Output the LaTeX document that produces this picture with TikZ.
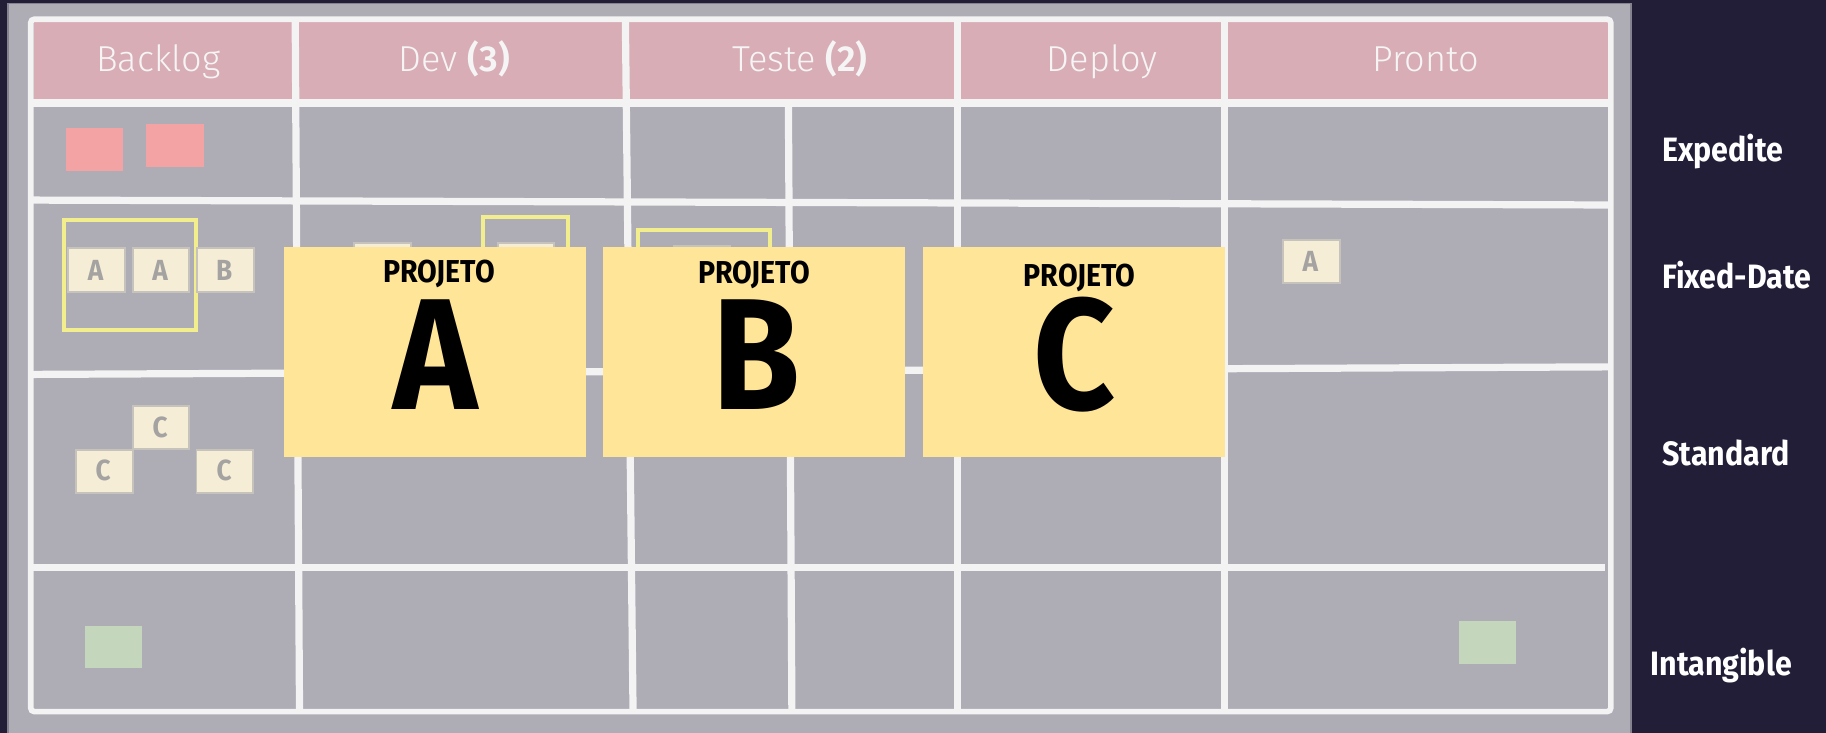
\documentclass[tikz,border=0pt]{standalone}
\usepackage{fontspec}
\setmainfont{Fira Sans}
\newfontfamily\hdrfont{Fira Sans}[UprightFont={* Light}, BoldFont={* SemiBold}]
\newfontfamily\lblfont{Fira Sans}[FakeStretch=0.9]
\definecolor{bgdark}{HTML}{231E38}
\definecolor{panel}{HTML}{AEADB6}
\definecolor{paneledge}{HTML}{85838F}
\definecolor{pinkh}{HTML}{D8ADB6}
\definecolor{linew}{HTML}{F3F3F3}
\definecolor{hdrtext}{HTML}{F5F5F5}
\definecolor{projy}{HTML}{FFE598}
\definecolor{cream}{HTML}{F5EDD6}
\definecolor{cardedge}{HTML}{C6C3BC}
\definecolor{cardtxt}{HTML}{A4A3A2}
\definecolor{outl}{HTML}{F2EE8E}
\definecolor{redc}{HTML}{F4A3A5}
\definecolor{greenc}{HTML}{C4D7BC}
\begin{document}
\begin{tikzpicture}[x=0.5pt,y=-0.5pt,
  wline/.style={draw=linew, line width=3.1pt},
  scard/.style={fill=cream, draw=cardedge, line width=0.8pt},
  outlinebox/.style={draw=outl, line width=1.6pt},
  cardletter/.style={text=cardtxt, font=\lblfont\bfseries\fontsize{12.5}{14}\selectfont, anchor=base, inner sep=0pt},
  hdr/.style={text=hdrtext, font=\hdrfont\fontsize{15.5}{18}\selectfont, anchor=base, inner sep=0pt},
  lbl/.style={text=white, font=\lblfont\bfseries\fontsize{14.5}{17}\selectfont, anchor=base west, inner sep=0pt},
  projsmall/.style={text=black, font=\lblfont\bfseries\fontsize{13.6}{15}\selectfont, anchor=base, inner sep=0pt},
  projbig/.style={text=black, font=\lblfont\bfseries\fontsize{68}{70}\selectfont, anchor=base, inner sep=0pt}
]
\useasboundingbox (0,0) rectangle (1568,629);
\fill[bgdark] (0,0) rectangle (1568,629);
% board panel
\path[fill=panel, draw=paneledge, line width=0.6pt] (7,3) rectangle (1400.6,640);
% header
\fill[pinkh] (28.8,18.6) rectangle (1381,85.5);
% grid lines
\draw[wline] (26.4,88.5) -- (1383.2,88.5);
\draw[wline] (26.4,171.8) -- (1383.2,176);
\draw[wline] (26.4,321.5) -- (1383.2,315);
\draw[wline] (26.4,487) -- (1378,487);
\draw[wline] (253.5,16.5) -- (257.2,611);
\draw[wline] (537,16.5) -- (543.6,611);
\draw[wline] (677,88.5) -- (680,611);
\draw[wline] (822.5,16.5) -- (822.5,611);
\draw[wline] (1051.5,16.5) -- (1051.5,611);
\draw[draw=linew, line width=2.4pt, rounded corners=1.5pt] (26.4,16.5) rectangle (1383.2,611);
% header texts
\node[hdr] (hBacklog) at (136,61.5) {Backlog};
\node[hdr] (hDev) at (390,61.5) {Dev \textbf{(3)}};
\node[hdr] (hTeste) at (687,61.5) {Teste \textbf{(2)}};
\node[hdr] (hDeploy) at (946.5,61.5) {Deploy};
\node[hdr] (hPronto) at (1224,61.5) {Pronto};
% expedite cards
\fill[redc] (57,110) rectangle (106,147);
\fill[redc] (125,106.5) rectangle (175,143);
% fixed-date
\draw[outlinebox] (55,189) rectangle (168,283.5);
\draw[scard] (58.7,213) rectangle (107.4,250.6);
\draw[scard] (114,213) rectangle (162.5,250.6);
\draw[scard] (169,213) rectangle (218,250.6);
\node[cardletter] (tA1) at (82,240.5) {A};
\node[cardletter] (tA2) at (137.5,240.5) {A};
\node[cardletter] (tB1) at (192.5,240.5) {B};
\draw[scard] (304,209) rectangle (353,246);
\draw[outlinebox] (415,186.6) rectangle (488,280);
\draw[scard] (427.5,209) rectangle (476,246);
\draw[outlinebox] (548,197.5) rectangle (661,290);
\draw[scard] (578.5,211) rectangle (627,248);
\draw[scard] (1101.4,206) rectangle (1151,243);
\node[cardletter] (tA3) at (1125.2,233.5) {A};
% standard
\draw[scard] (114,348.4) rectangle (162.5,385.6);
\draw[scard] (65,386.5) rectangle (114,423);
\draw[scard] (168.7,386.5) rectangle (217.4,423);
\node[cardletter] (tC1) at (137.5,375.5) {C};
\node[cardletter] (tC2) at (88.5,413) {C};
\node[cardletter] (tC3) at (192.5,413) {C};
% intangible
\fill[greenc] (72.8,537.6) rectangle (122,574);
\fill[greenc] (1253,533.3) rectangle (1302,570);
% project cards
\fill[projy] (244,212) rectangle (503,392.5);
\fill[projy] (518,212) rectangle (777,392.5);
\fill[projy] (792.6,212) rectangle (1052,392.5);
\node[projsmall] (pA) at (377,242.5) {PROJETO};
\node[projsmall] (pB) at (647.6,243.5) {PROJETO};
\node[projsmall] (pC) at (927,246) {PROJETO};
\node[projbig] (bA) at (374,352) {A};
\node[projbig] (bB) at (650,352) {B};
\node[projbig] (bC) at (922.5,352) {C};
% row labels
\node[lbl] (lExp) at (1427,138.8) {Expedite};
\node[lbl] (lFix) at (1427,247.6) {Fixed-Date};
\node[lbl] (lStd) at (1427,399.3) {Standard};
\node[lbl] (lInt) at (1417,579.7) {Intangible};
\end{tikzpicture}
\end{document}
